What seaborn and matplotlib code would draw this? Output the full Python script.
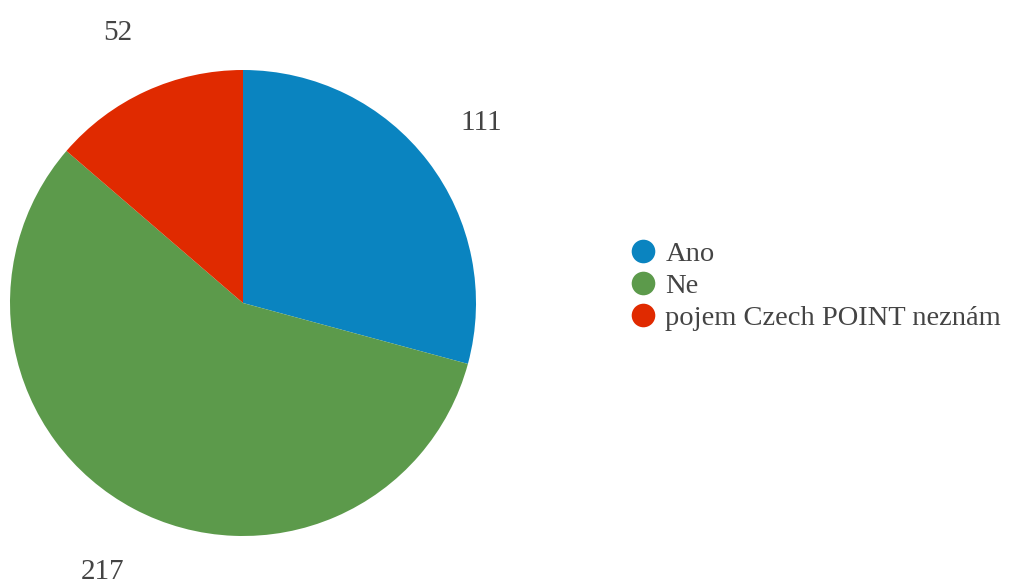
import matplotlib
matplotlib.use("Agg")
import matplotlib.pyplot as plt
from matplotlib.lines import Line2D
import seaborn as sns

# Survey answers and counts
categories = ["Ano", "Ne", "pojem Czech POINT neznám"]
counts = [111, 217, 52]
colors = ["#0a84c0", "#5c9a4b", "#e02a00"]

sns.set_theme(style="white")
plt.rcParams["font.family"] = ["Liberation Serif", "DejaVu Serif"]
text_color = "#444444"

fig = plt.figure(figsize=(10.12, 5.83), dpi=100)
ax = fig.add_axes([10 / 1012, 47 / 583, 466 / 1012, 466 / 583])

wedges, texts = ax.pie(
    counts,
    labels=[str(c) for c in counts],
    colors=sns.color_palette(colors),
    startangle=90,
    counterclock=False,
    labeldistance=1.29,
    textprops=dict(fontsize=21, color=text_color),
    wedgeprops=dict(linewidth=0),
)
for t in texts:
    t.set_horizontalalignment("center")
    t.set_verticalalignment("center_baseline")
ax.set_xlim(-1, 1)
ax.set_ylim(-1, 1)
ax.set_aspect("equal")
ax.axis("off")

handles = [
    Line2D([], [], marker="o", linestyle="none", markersize=17,
           markerfacecolor=c, markeredgewidth=0)
    for c in colors
]
leg = fig.legend(
    handles, categories,
    loc="center left",
    bbox_to_anchor=(629 / 1012, 1 - 286 / 583),
    frameon=False,
    fontsize=20.5,
    handlelength=1.0,
    handletextpad=0.28,
    labelspacing=0.22,
    borderpad=0,
    borderaxespad=0,
)
for t in leg.get_texts():
    t.set_color(text_color)

fig.savefig("out.png", dpi=100, facecolor="white")
